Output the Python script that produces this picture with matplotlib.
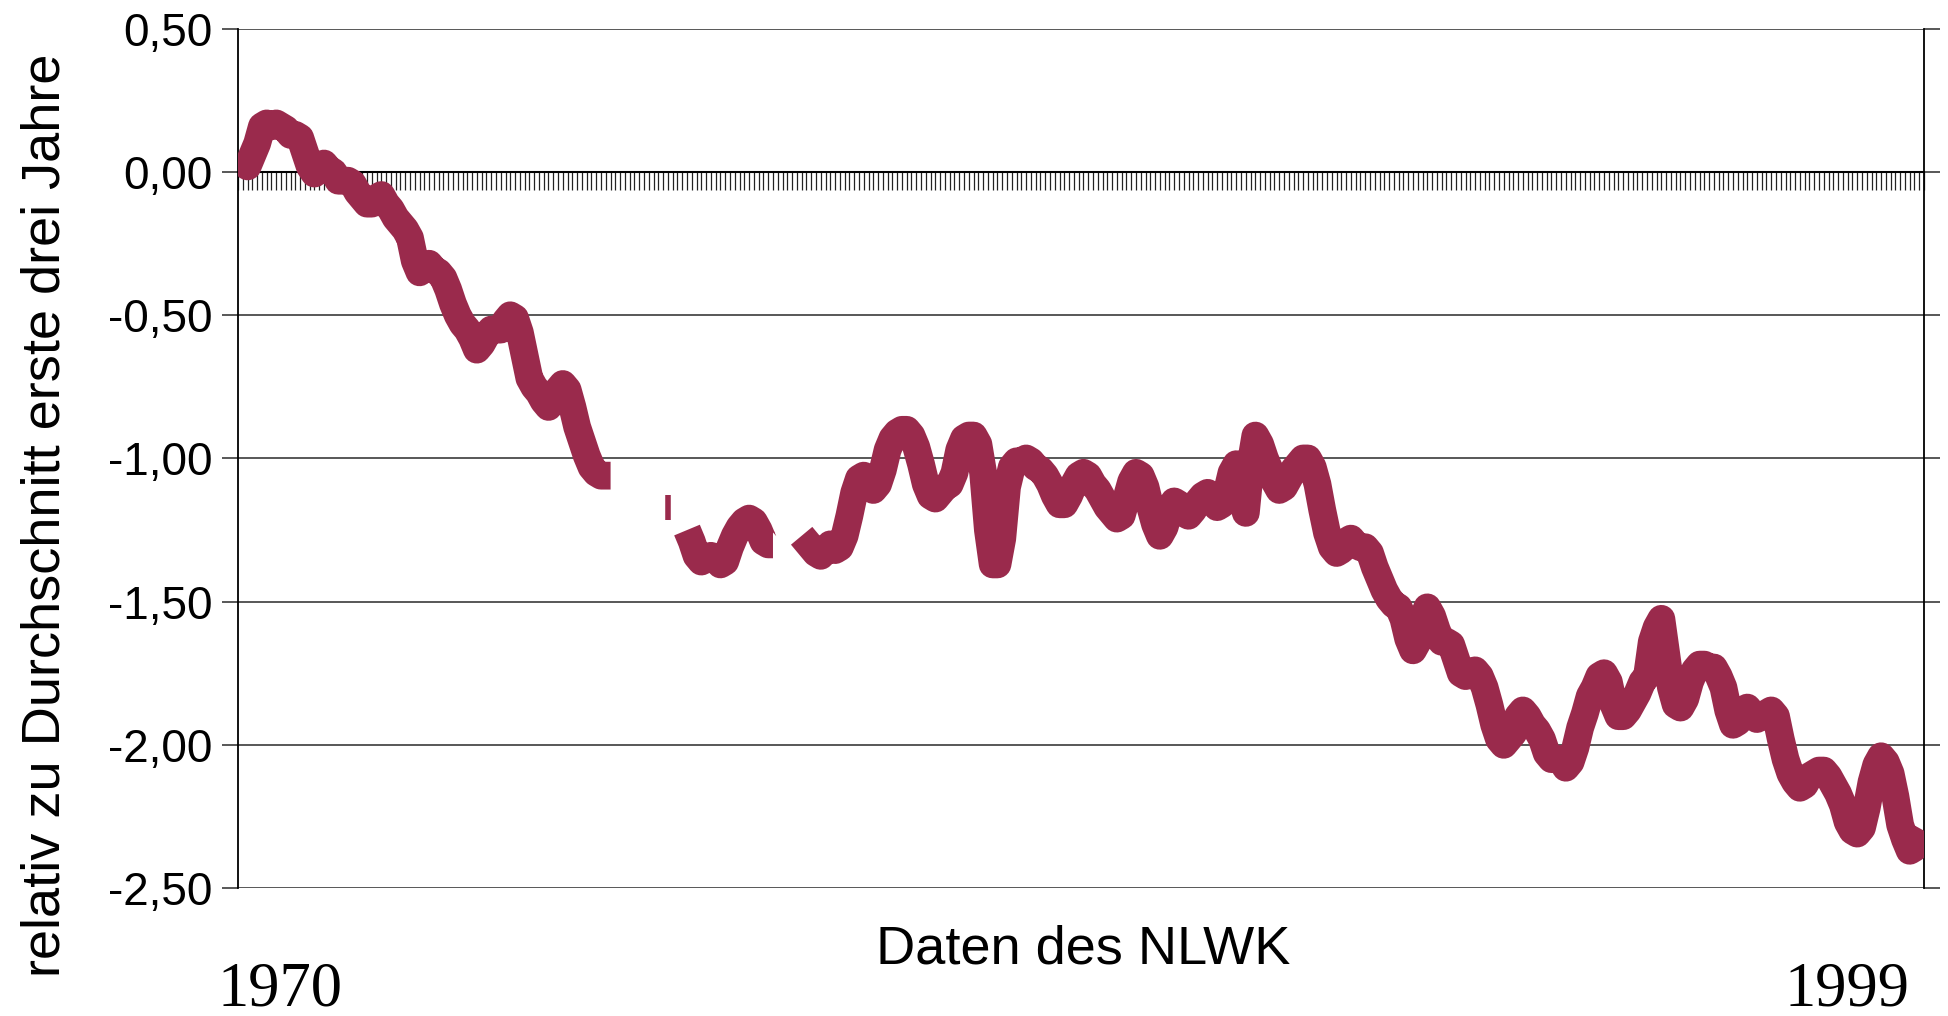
import matplotlib
matplotlib.use("Agg")
import matplotlib.pyplot as plt
import numpy as np

nan = np.nan

# monthly values, relative to the mean of the first three years (Jan 1970 .. Jun 1999)
y1970 = [0.06, 0.04, 0.02, 0.06, 0.10, 0.16, 0.17, 0.16, 0.17, 0.16, 0.15, 0.13]
y1971 = [0.13, 0.12, 0.07, 0.02, -0.005, 0.01, 0.03, 0.01, 0.00, -0.03, -0.03, -0.03]
y1972 = [-0.04, -0.07, -0.09, -0.11, -0.11, -0.09, -0.08, -0.11, -0.13, -0.16, -0.18, -0.20]
y1973 = [-0.23, -0.31, -0.35, -0.33, -0.32, -0.34, -0.35, -0.37, -0.41, -0.46, -0.50, -0.53]
y1974 = [-0.55, -0.58, -0.62, -0.60, -0.57, -0.55, -0.55, -0.55, -0.52, -0.50, -0.51, -0.56]
y1975 = [-0.64, -0.72, -0.75, -0.77, -0.80, -0.82, -0.78, -0.76, -0.74, -0.76, -0.82, -0.89]
y1976 = [-0.94, -0.99, -1.03, -1.05, -1.06, -1.06, -1.06, nan, nan, nan, nan, nan]
y1977 = [nan, nan, nan, nan, nan, nan, -1.17, nan, nan, nan, -1.25, -1.29]
y1978 = [-1.34, -1.36, -1.35, -1.34, -1.35, -1.37, -1.36, -1.31, -1.27, -1.24, -1.22, -1.21]
y1979 = [-1.22, -1.25, -1.29, -1.30, -1.30, nan, nan, nan, nan, nan, -1.27, -1.29]
y1980 = [-1.31, -1.33, -1.34, -1.32, -1.30, -1.32, -1.31, -1.27, -1.20, -1.12, -1.07, -1.06]
y1981 = [-1.08, -1.11, -1.09, -1.04, -0.97, -0.93, -0.91, -0.90, -0.90, -0.92, -0.96, -1.02]
y1982 = [-1.09, -1.13, -1.14, -1.12, -1.10, -1.09, -1.05, -0.97, -0.93, -0.92, -0.92, -0.95]
y1983 = [-1.05, -1.25, -1.37, -1.37, -1.28, -1.10, -1.03, -1.01, -1.01, -1.00, -1.01, -1.03]
y1984 = [-1.04, -1.06, -1.09, -1.13, -1.16, -1.16, -1.13, -1.09, -1.06, -1.05, -1.06, -1.09]
y1985 = [-1.11, -1.14, -1.17, -1.19, -1.21, -1.20, -1.14, -1.08, -1.05, -1.06, -1.10, -1.17]
y1986 = [-1.23, -1.27, -1.24, -1.18, -1.15, -1.16, -1.19, -1.20, -1.18, -1.15, -1.13, -1.12]
y1987 = [-1.14, -1.17, -1.16, -1.12, -1.05, -1.02, -1.12, -1.19, -1.02, -0.92, -0.95, -1.00]
y1988 = [-1.04, -1.08, -1.11, -1.10, -1.07, -1.04, -1.02, -1.00, -1.00, -1.03, -1.09, -1.18]
y1989 = [-1.26, -1.31, -1.33, -1.32, -1.29, -1.28, -1.30, -1.31, -1.31, -1.33, -1.38, -1.42]
y1990 = [-1.46, -1.49, -1.51, -1.52, -1.56, -1.63, -1.67, -1.64, -1.56, -1.52, -1.55, -1.60]
y1991 = [-1.64, -1.64, -1.65, -1.70, -1.75, -1.76, -1.75, -1.74, -1.76, -1.80, -1.86, -1.93]
y1992 = [-1.98, -2.00, -1.98, -1.96, -1.90, -1.88, -1.90, -1.93, -1.95, -1.98, -2.03, -2.05]
y1993 = [-2.05, -2.05, -2.08, -2.06, -2.01, -1.94, -1.89, -1.83, -1.80, -1.76, -1.75, -1.78]
y1994 = [-1.86, -1.90, -1.90, -1.88, -1.85, -1.82, -1.78, -1.76, -1.64, -1.59, -1.56, -1.68]
y1995 = [-1.80, -1.86, -1.87, -1.84, -1.78, -1.74, -1.72, -1.72, -1.73, -1.73, -1.76, -1.80]
y1996 = [-1.88, -1.93, -1.92, -1.88, -1.87, -1.89, -1.91, -1.90, -1.89, -1.88, -1.90, -1.98]
y1997 = [-2.05, -2.10, -2.13, -2.15, -2.14, -2.11, -2.10, -2.09, -2.09, -2.11, -2.14, -2.17]
y1998 = [-2.21, -2.27, -2.30, -2.31, -2.29, -2.22, -2.13, -2.07, -2.04, -2.06, -2.10, -2.18]
y1999 = [-2.28, -2.33, -2.37, -2.36, -2.33, -2.30]

years = [y1970, y1971, y1972, y1973, y1974, y1975, y1976, y1977, y1978, y1979,
         y1980, y1981, y1982, y1983, y1984, y1985, y1986, y1987, y1988, y1989,
         y1990, y1991, y1992, y1993, y1994, y1995, y1996, y1997, y1998, y1999]

yticks = [-2.5, -2.0, -1.5, -1.0, -0.5, 0.0, 0.5]

values = np.array([v for yr in years for v in yr], dtype=float)
months = np.arange(len(values))

sans = "Liberation Sans"
line_color = "#9A2A4C"
grid_color = "#4a4a4a"

fig = plt.figure(figsize=(19.48, 10.16), dpi=100)
ax = fig.add_axes([0.1222, 0.126, 0.8655, 0.8455])

ax.plot(months, values, color=line_color, lw=20,
        solid_capstyle="butt", solid_joinstyle="round", zorder=3)

# single months without neighbours show up as a short dash
isolated = []
for i in range(len(values)):
    if np.isnan(values[i]):
        continue
    left = i == 0 or np.isnan(values[i - 1])
    right = i == len(values) - 1 or np.isnan(values[i + 1])
    if left and right:
        isolated.append(i)
ax.plot(months[isolated], values[isolated], ls="none", marker="|",
        ms=18, mew=4, color=line_color, zorder=3)

ax.set_xlim(0, len(values) - 1)
ax.set_ylim(-2.5, 0.5)

# y axis: comma decimals, gridlines
ax.set_yticks(yticks)
ax.set_yticklabels([f"{v:.2f}".replace(".", ",") for v in yticks],
                   family=sans, fontsize=33)
ax.yaxis.grid(True, color=grid_color, lw=1.3)
ax.tick_params(axis="y", direction="out", length=11.5, width=1.3,
               color=grid_color, pad=7, left=True, right=True)

# category axis sits at zero with a tick for every month
ax.spines["bottom"].set_position(("data", 0))
ax.spines["bottom"].set_color("black")
ax.spines["bottom"].set_linewidth(1.5)
ax.spines["top"].set_visible(False)
ax.spines["left"].set_linewidth(1.3)
ax.spines["right"].set_linewidth(1.3)
ax.set_xticks(months)
ax.tick_params(axis="x", direction="out", length=13, width=0.9,
               color="#222222", labelbottom=False)
ax.set_axisbelow(True)

fig.text(0.0236, 0.493, "relativ zu Durchschnitt erste drei Jahre",
         rotation=90, ha="center", va="center", family=sans, fontsize=39)
fig.text(0.556, 0.065, "Daten des NLWK", ha="center", va="center",
         family=sans, fontsize=39)
fig.text(0.1114, 0.01, "1970", ha="left", va="baseline",
         family="Liberation Serif", fontsize=45)
fig.text(0.9163, 0.01, "1999", ha="left", va="baseline",
         family="Liberation Serif", fontsize=45)

fig.savefig("out.png", dpi=100)
